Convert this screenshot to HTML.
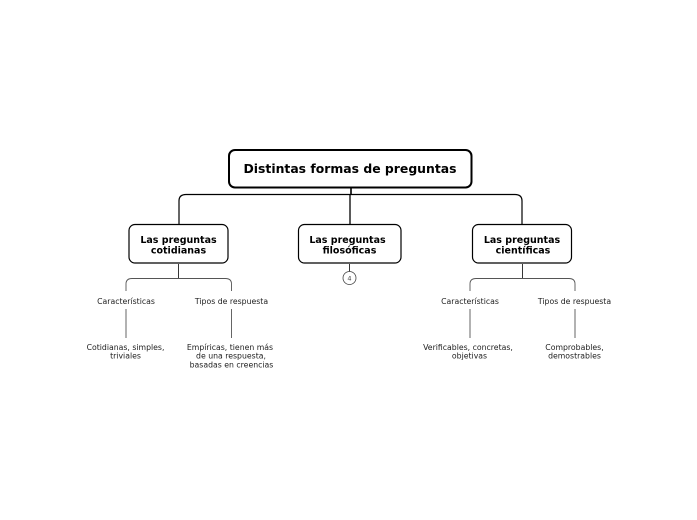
<!DOCTYPE html>
<html><head><meta charset="utf-8"><style>
html,body{margin:0;padding:0;background:#fff;width:697px;height:520px;overflow:hidden}
svg{display:block}
text{font-family:"DejaVu Sans",sans-serif;text-anchor:middle;fill:#000}
.b{font-weight:bold}
.s{font-size:7.75px;fill:#222}
</style></head><body>
<svg width="697" height="520" viewBox="0 0 697 520">
<g fill="none" stroke="#000">
<path d="M351 188V194.500" stroke-width="1.6"/>
<path d="M350 194.500V224" stroke-width="1.300"/>
<path d="M179 224V201Q179 194.500 186 194.500H515Q522 194.500 522 201V224" stroke-width="1.200"/>
<path d="M178.500 264V278.500M349.500 264V271.500M522.500 264V278.500" stroke-width="0.9" stroke="#222"/>
<g stroke="#555" stroke-width="0.9">
<path d="M126 291V284Q126 278.500 132 278.500H225.500Q231.500 278.500 231.500 284V291"/>
<path d="M470 291V284Q470 278.500 476 278.500H569Q575 278.500 575 284V291"/>
<path d="M126 309V338M231.500 309V338M470 309V338M575 309V338"/>
</g>
<rect x="229" y="150" width="242.500" height="37.500" rx="6" fill="#fff" stroke-width="2"/>
<rect x="129" y="224.500" width="99" height="38.500" rx="6" fill="#fff" stroke-width="1.200"/>
<rect x="298.500" y="224.500" width="102.500" height="38.500" rx="6" fill="#fff" stroke-width="1.200"/>
<rect x="472.500" y="224.500" width="99" height="38.500" rx="6" fill="#fff" stroke-width="1.200"/>
<circle cx="349.500" cy="278" r="6.500" fill="#fff" stroke="#444" stroke-width="0.8"/>
</g>
<text class="b" x="350" y="173" font-size="12.400">Distintas formas de preguntas</text>
<g font-size="9.500">
<text class="b" x="178.500" y="243">Las preguntas</text>
<text class="b" x="178.500" y="253.500">cotidianas</text>
<text class="b" x="349.500" y="243" dx="-2">Las preguntas</text>
<text class="b" x="349.500" y="253.500">filosóficas</text>
<text class="b" x="522" y="243">Las preguntas</text>
<text class="b" x="523" y="253.500">científicas</text>
</g>
<text x="349.500" y="280.500" font-size="6.500" style="fill:#444">4</text>
<text class="s" x="126" y="304">Características</text>
<text class="s" x="231.500" y="304">Tipos de respuesta</text>
<text class="s" x="470" y="304">Características</text>
<text class="s" x="574.500" y="304">Tipos de respuesta</text>
<text class="s" x="125.500" y="350">Cotidianas, simples,</text>
<text class="s" x="125.500" y="358.500">triviales</text>
<text class="s" x="230" y="350">Empíricas, tienen más</text>
<text class="s" x="231" y="358.500">de una respuesta,</text>
<text class="s" x="231.500" y="367.500">basadas en creencias</text>
<text class="s" x="468" y="350">Verificables, concretas,</text>
<text class="s" x="469.500" y="358.500">objetivas</text>
<text class="s" x="574.500" y="350">Comprobables,</text>
<text class="s" x="574.500" y="358.500">demostrables</text>
</svg>
</body></html>
